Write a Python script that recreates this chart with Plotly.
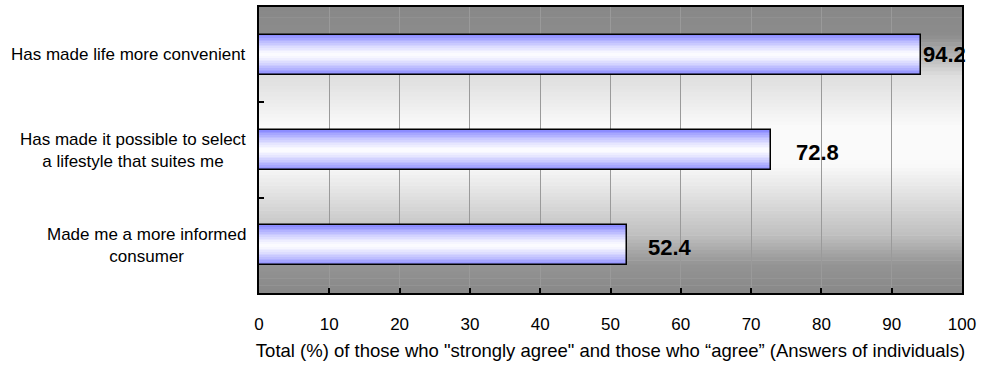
import plotly.graph_objects as go

categories = ["Has made life more convenient",
              "Has made it possible to select<br>a lifestyle that suites me",
              "Made me a more informed<br>consumer"]
values = [94.2, 72.8, 52.4]
value_labels = ["94.2", "72.8", "52.4"]
x_ticks = [0, 10, 20, 30, 40, 50, 60, 70, 80, 90, 100]
x_title = 'Total (%) of those who "strongly agree" and those who \u201cagree\u201d (Answers of individuals)'

FONT = "Liberation Sans, Arial, sans-serif"
ypos = list(range(len(categories)))
BAR_W = 0.417

fig = go.Figure()

# gradient bars: stacked overlay layers, outer blue -> white centre
N = 12
for k in range(N):
    frac = 1 - k / N
    t = frac ** 1.4
    r = round(255 - (255 - 140) * t)
    g = round(255 - (255 - 140) * t)
    fig.add_trace(go.Bar(
        y=ypos, x=values, orientation="h", width=BAR_W * frac,
        marker=dict(color=f"rgb({r},{g},255)", line=dict(width=0)),
        hoverinfo="skip", showlegend=False))

# outline
fig.add_trace(go.Bar(
    y=ypos, x=values, orientation="h", width=BAR_W,
    marker=dict(color="rgba(0,0,0,0)", line=dict(color="black", width=1.5)),
    showlegend=False))

# background vertical gradient
stops = [(0.0, 136), (0.1, 140), (0.24, 222), (0.42, 250), (0.55, 250),
         (0.7, 215), (0.8, 190), (0.9, 148), (1.0, 136)]
M = 80
shapes = []
for i in range(M):
    y0 = i / M
    y1 = (i + 1) / M
    p = 1 - (y0 + y1) / 2  # 0 at top
    for j in range(len(stops) - 1):
        a, ca = stops[j]
        b, cb = stops[j + 1]
        if a <= p <= b:
            c = round(ca + (cb - ca) * (p - a) / (b - a))
            break
    shapes.append(dict(type="rect", xref="x domain", yref="y domain",
                       x0=0, x1=1, y0=y0, y1=y1 + 0.002, layer="below",
                       fillcolor=f"rgb({c},{c},{c})", line=dict(width=0)))

annotations = []
for i, cat in enumerate(categories):
    annotations.append(dict(x=0, xref="paper", y=i, yref="y", text=cat,
                            xanchor="right", yanchor="middle", align="center",
                            xshift=-11, showarrow=False,
                            font=dict(family=FONT, size=17, color="black")))
label_shift = [0, 23, 19]
for i, (v, lab) in enumerate(zip(values, value_labels)):
    annotations.append(dict(x=v, y=i, xref="x", yref="y", text=f"<b>{lab}</b>",
                            xanchor="left", yanchor="middle", xshift=label_shift[i],
                            yshift=-2 if i else 0, showarrow=False,
                            font=dict(family=FONT, size=22, color="black")))

fig.update_layout(
    width=982, height=371,
    margin=dict(l=259, r=20, t=5, b=78),
    paper_bgcolor="white", plot_bgcolor="white",
    barmode="overlay", bargap=0,
    shapes=shapes, annotations=annotations,
    font=dict(family=FONT, color="black"),
)
fig.update_xaxes(range=[0, 100], tickvals=x_ticks, ticktext=[str(v) for v in x_ticks],
                 showgrid=True, gridcolor="#9a9a9a", gridwidth=1,
                 ticks="inside", ticklen=5, tickcolor="black", tickwidth=1.5,
                 showline=True, linecolor="black", linewidth=2, mirror=True,
                 tickfont=dict(family=FONT, size=17), ticklabelstandoff=15,
                 title=dict(text=x_title, font=dict(family=FONT, size=18.5), standoff=11),
                 zeroline=False)
fig.update_yaxes(range=[2.5, -0.5], tickvals=[-0.5, 0.5, 1.5, 2.5],
                 showticklabels=False, showgrid=False, zeroline=False,
                 ticks="inside", ticklen=5, tickcolor="black", tickwidth=1.5,
                 showline=True, linecolor="black", linewidth=2, mirror=True)

fig.write_html("out.html")
